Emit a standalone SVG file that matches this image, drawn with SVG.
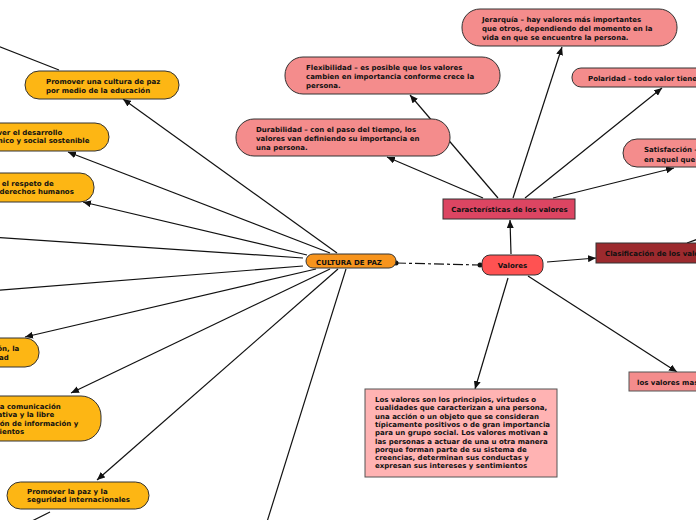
<svg xmlns="http://www.w3.org/2000/svg" width="696" height="520" viewBox="0 0 696 520">
<defs>
<style>
text{font-family:"DejaVu Sans",Verdana,sans-serif;font-weight:bold;font-size:7px;fill:#111}
.c{stroke:#111;stroke-width:1.2;fill:none}
.a{marker-end:url(#ah)}
.amb{fill:#fdb614;stroke:#333;stroke-width:1}
.pk{fill:#f48c8c;stroke:#333;stroke-width:1}
.lp{fill:#ffb3b3;stroke:#555;stroke-width:1}
</style>
<marker id="ah" markerUnits="userSpaceOnUse" markerWidth="8" markerHeight="7" refX="8" refY="3.5" orient="auto">
<path d="M0,0 L8,3.5 L0,7 z" fill="#111"/>
</marker>
</defs>
<rect width="696" height="520" fill="#fff"/>
<g id="connectors">
<line class="c a" x1="337" y1="253" x2="123" y2="99"/>
<line class="c a" x1="330" y1="253" x2="68" y2="152"/>
<line class="c a" x1="307" y1="255" x2="83" y2="202"/>
<line class="c" x1="303" y1="258" x2="-10" y2="237"/>
<line class="c" x1="303" y1="266" x2="-10" y2="291"/>
<line class="c a" x1="316" y1="269" x2="25" y2="337"/>
<line class="c a" x1="330" y1="269" x2="71" y2="393"/>
<line class="c a" x1="338" y1="269" x2="97" y2="480"/>
<line class="c" x1="346" y1="269" x2="266" y2="525"/>
<line class="c" x1="59" y1="70" x2="-10" y2="43"/>
<line class="c" x1="50" y1="512" x2="20" y2="527"/>
<line stroke="#111" stroke-width="1.2" stroke-dasharray="10,3,3,3" x1="396" y1="263" x2="480" y2="265"/>
<circle cx="396" cy="263" r="2.5" fill="#111"/>
<circle cx="480" cy="265" r="2.5" fill="#111"/>
<line class="c a" x1="511" y1="254" x2="510" y2="220"/>
<line class="c a" x1="483" y1="198" x2="387" y2="157"/>
<line class="c a" x1="498" y1="198" x2="410" y2="95"/>
<line class="c a" x1="513" y1="198" x2="562" y2="47"/>
<line class="c a" x1="525" y1="198" x2="662" y2="88"/>
<line class="c a" x1="553" y1="198" x2="674" y2="168"/>
<line class="c a" x1="547" y1="262" x2="596" y2="258"/>
<line class="c a" x1="528" y1="276" x2="677" y2="372"/>
<line class="c a" x1="508" y1="278" x2="475" y2="389"/>
<line class="c" x1="687" y1="243" x2="712" y2="234"/>
</g>
<g id="n-cultura">
<rect x="306" y="254" width="90" height="14" rx="7" fill="#f7941d" stroke="#333" stroke-width="1"/>
<text x="349" y="264.5" text-anchor="middle">CULTURA DE PAZ</text>
</g>
<g id="n-educacion">
<rect class="amb" x="25" y="71" width="154" height="28" rx="14"/>
<text x="46" y="84">Promover una cultura de paz</text>
<text x="46" y="92.5">por medio de la educación</text>
</g>
<g id="n-desarrollo">
<rect class="amb" x="-49" y="123" width="158" height="28" rx="14"/>
<text x="-28" y="134.5">Promover el desarrollo</text>
<text x="-28" y="143">económico y social sostenible</text>
</g>
<g id="n-derechos">
<rect class="amb" x="-60" y="173" width="154" height="29" rx="14"/>
<text x="-39" y="185.5">Promover el respeto de</text>
<text x="-39" y="194">todos los derechos humanos</text>
</g>
<g id="n-comprension">
<rect class="amb" x="-115" y="338" width="154" height="29" rx="14"/>
<text x="-94" y="351">Promover la comprensión, la</text>
<text x="-94" y="359.5">tolerancia y la solidaridad</text>
</g>
<g id="n-comunicacion">
<rect class="amb" x="-54" y="396" width="155" height="45" rx="20"/>
<text x="-33" y="408.5">Apoyar la comunicación</text>
<text x="-33" y="417">participativa y la libre</text>
<text x="-33" y="425.5">circulación de información y</text>
<text x="-33" y="434">conocimientos</text>
</g>
<g id="n-paz">
<rect class="amb" x="7" y="482" width="142" height="27" rx="13.5"/>
<text x="27" y="493.5">Promover la paz y la</text>
<text x="27" y="502">seguridad internacionales</text>
</g>
<g id="n-valores">
<rect x="482" y="255" width="61" height="20" rx="8" fill="#ff5252" stroke="#333" stroke-width="1"/>
<text x="512.5" y="267.5" text-anchor="middle">Valores</text>
</g>
<g id="n-caracteristicas">
<rect x="443" y="199" width="132" height="20" fill="#dc4562" stroke="#333" stroke-width="1"/>
<text x="509.5" y="211.5" text-anchor="middle">Características de los valores</text>
</g>
<g id="n-clasificacion">
<rect x="596" y="243" width="130" height="20" fill="#9c2a2e" stroke="#333" stroke-width="1"/>
<text x="605" y="255.5">Clasificación de los valores</text>
</g>
<g id="n-jerarquia">
<rect class="pk" x="462" y="9" width="215" height="37" rx="18"/>
<text x="482" y="22">Jerarquía – hay valores más importantes</text>
<text x="482" y="31">que otros, dependiendo del momento en la</text>
<text x="482" y="40">vida en que se encuentre la persona.</text>
</g>
<g id="n-flexibilidad">
<rect class="pk" x="285" y="57" width="215" height="37" rx="18"/>
<text x="306" y="70">Flexibilidad – es posible que los valores</text>
<text x="306" y="79">cambien en importancia conforme crece la</text>
<text x="306" y="88">persona.</text>
</g>
<g id="n-durabilidad">
<rect class="pk" x="236" y="119" width="214" height="37" rx="18"/>
<text x="256" y="132">Durabilidad – con el paso del tiempo, los</text>
<text x="256" y="141">valores van definiendo su importancia en</text>
<text x="256" y="150">una persona.</text>
</g>
<g id="n-polaridad">
<rect class="pk" x="572" y="68" width="150" height="19" rx="9"/>
<text x="588" y="80.5">Polaridad – todo valor tiene</text>
</g>
<g id="n-satisfaccion">
<rect class="pk" x="623" y="139" width="100" height="28" rx="14"/>
<text x="644" y="152">Satisfacción –</text>
<text x="644" y="161.5">en aquel que</text>
</g>
<g id="n-masimportantes">
<rect class="pk" x="629" y="372" width="100" height="19" style="stroke:#555"/>
<text x="637" y="384.5">los valores mas</text>
</g>
<g id="n-definicion">
<rect class="lp" x="365" y="389" width="192" height="88"/>
<text x="375" y="402">Los valores son los principios, virtudes o</text>
<text x="375" y="410.3">cualidades que caracterizan a una persona,</text>
<text x="375" y="418.6">una acción o un objeto que se consideran</text>
<text x="375" y="426.9">típicamente positivos o de gran importancia</text>
<text x="375" y="435.2">para un grupo social. Los valores motivan a</text>
<text x="375" y="443.5">las personas a actuar de una u otra manera</text>
<text x="375" y="451.8">porque forman parte de su sistema de</text>
<text x="375" y="460.1">creencias, determinan sus conductas y</text>
<text x="375" y="468.4">expresan sus intereses y sentimientos</text>
</g>
</svg>
